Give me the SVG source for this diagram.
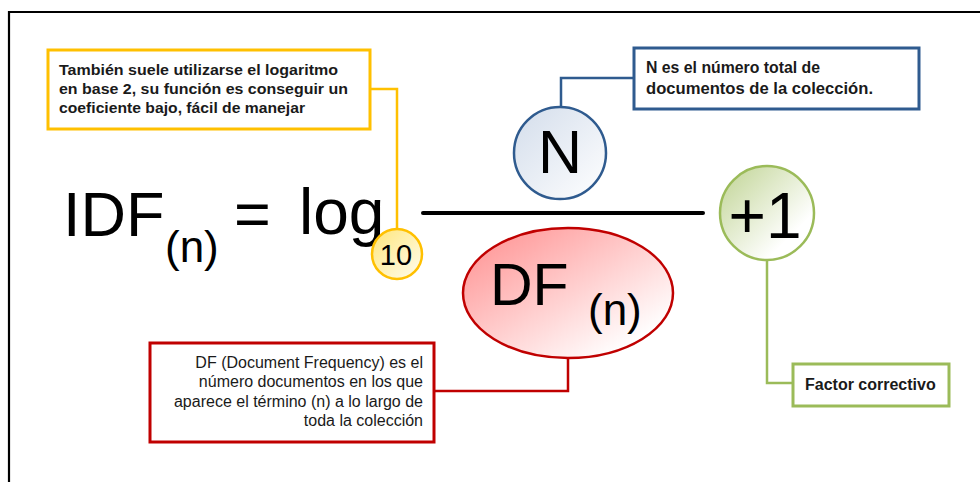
<svg xmlns="http://www.w3.org/2000/svg" width="980" height="482" viewBox="0 0 980 482">
  <style>
    .note { font-family: "Liberation Sans", Arial, sans-serif; font-size: 16px; fill: #1a1a1a; }
    .bold { font-weight: bold; }
    .small { font-size: 15.5px; }
    .big { font-family: "Liberation Sans", Arial, sans-serif; fill: #000; }
    .box { fill: #fff; stroke-width: 3; }
    .wire { fill: none; stroke-width: 2.5; }
  </style>
  <defs>
    <linearGradient id="gYellow" x1="0" y1="0" x2="1" y2="1">
      <stop offset="0" stop-color="#FFE67A"/>
      <stop offset="1" stop-color="#FFFDF0"/>
    </linearGradient>
    <linearGradient id="gBlue" x1="0" y1="0" x2="1" y2="1">
      <stop offset="0" stop-color="#D3DDEB"/>
      <stop offset="1" stop-color="#FFFFFF"/>
    </linearGradient>
    <linearGradient id="gGreen" x1="0" y1="0" x2="1" y2="1">
      <stop offset="0" stop-color="#BFD392"/>
      <stop offset="0.75" stop-color="#FFFFFF"/>
    </linearGradient>
    <linearGradient id="gRed" x1="0" y1="0" x2="1" y2="1">
      <stop offset="0" stop-color="#FF8C8C"/>
      <stop offset="0.85" stop-color="#FFFFFF"/>
    </linearGradient>
  </defs>

  <rect width="980" height="482" fill="#fff"/>
  <!-- open frame: top and left edges -->
  <path d="M9 482 V12 H980" fill="none" stroke="#000" stroke-width="2.2"/>

  <!-- formula -->
  <g id="formula">
    <text class="big" x="63" y="236" font-size="63">IDF</text>
    <text class="big" x="165" y="262" font-size="44">(n)</text>
    <text class="big" x="234" y="236" font-size="63">=</text>
    <text class="big" x="299" y="234" font-size="64">log</text>
    <line x1="423" y1="213" x2="703" y2="213" stroke="#000" stroke-width="4" stroke-linecap="round"/>
  </g>

  <!-- connectors -->
  <g id="connectors">
    <path class="wire" d="M370 89 H397 V229" stroke="#FFC000"/>
    <path class="wire" d="M634 78 H561 V107" stroke="#2F5B8F"/>
    <path class="wire" d="M568 358 V391 H434" stroke="#C00000"/>
    <path class="wire" d="M767 260 V383 H793" stroke="#9BBB59"/>
  </g>

  <g id="base10">
    <circle cx="397" cy="254" r="25" fill="url(#gYellow)" stroke="#FFC000" stroke-width="2.5"/>
    <text class="big" x="396" y="265" font-size="29" text-anchor="middle" fill="#111">10</text>
  </g>

  <g id="numerator">
    <circle cx="560" cy="153" r="46" fill="url(#gBlue)" stroke="#2F5B8F" stroke-width="2.5"/>
    <text class="big" x="560" y="173" font-size="61" text-anchor="middle">N</text>
  </g>

  <g id="denominator">
    <ellipse cx="568" cy="293" rx="105" ry="65" fill="url(#gRed)" stroke="#C00000" stroke-width="2.5"/>
    <text class="big" x="490" y="305" font-size="59">DF</text>
    <text class="big" x="588" y="325" font-size="44">(n)</text>
  </g>

  <g id="plusOne">
    <circle cx="767" cy="213" r="47" fill="url(#gGreen)" stroke="#9BBB59" stroke-width="2.5"/>
    <text class="big" x="765" y="238" font-size="64" text-anchor="middle">+1</text>
  </g>

  <g id="noteLog">
    <rect class="box" x="48" y="50" width="322" height="79" stroke="#FFC000"/>
    <text class="note bold small" x="59" y="75" textLength="279" lengthAdjust="spacingAndGlyphs">También suele utilizarse el logaritmo</text>
    <text class="note bold small" x="59" y="94" textLength="289" lengthAdjust="spacingAndGlyphs">en base 2, su función es conseguir un</text>
    <text class="note bold small" x="59" y="113" textLength="246" lengthAdjust="spacingAndGlyphs">coeficiente bajo, fácil de manejar</text>
  </g>

  <g id="noteN">
    <rect class="box" x="634" y="48" width="285" height="61" stroke="#2F5B8F"/>
    <text class="note bold" x="646" y="73" textLength="174" lengthAdjust="spacingAndGlyphs">N es el número total de</text>
    <text class="note bold" x="646" y="94" textLength="227" lengthAdjust="spacingAndGlyphs">documentos de la colección.</text>
  </g>

  <g id="noteDF">
    <rect class="box" x="150" y="343" width="284" height="99" stroke="#C00000"/>
    <text class="note" x="423" y="368" text-anchor="end">DF (Document Frequency) es el</text>
    <text class="note" x="423" y="387" text-anchor="end">número documentos en los que</text>
    <text class="note" x="423" y="407" text-anchor="end">aparece el término (n) a lo largo de</text>
    <text class="note" x="423" y="426" text-anchor="end">toda la colección</text>
  </g>

  <g id="noteOne">
    <rect class="box" x="793" y="364" width="156" height="42" stroke="#9BBB59"/>
    <text class="note bold" x="805" y="390">Factor correctivo</text>
  </g>
</svg>
